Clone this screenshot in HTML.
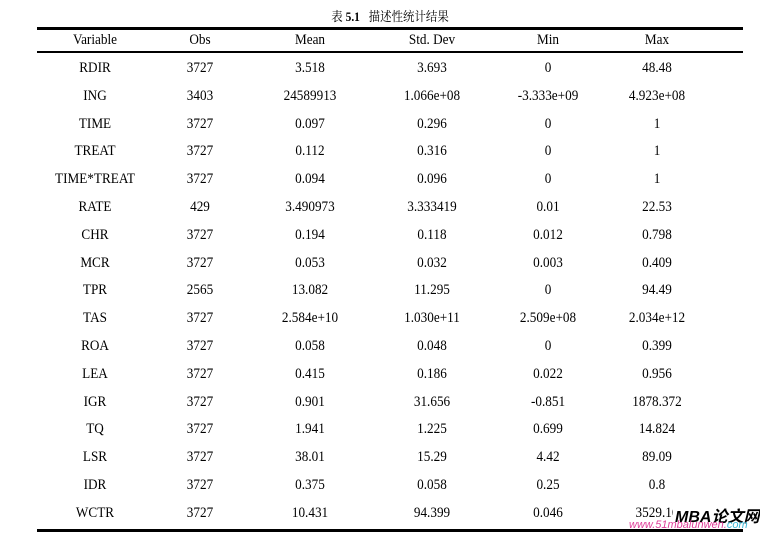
<!DOCTYPE html>
<html><head><meta charset="utf-8"><style>
body{margin:0;width:760px;height:535px;background:#fff;position:relative;overflow:hidden;font-family:"Liberation Serif","Noto Serif CJK SC",serif;color:#000}
.t{position:absolute;font-size:15px;line-height:16px;white-space:nowrap;transform:translateX(-50%) scaleX(0.88)}
.ln{position:absolute;left:37px;width:706px;background:#000}
</style></head><body>
<div class="t" style="left:390px;top:8px;font-family:'Noto Serif CJK SC','Liberation Serif',serif;font-size:13px">表 <b style="font-family:'Liberation Serif'">5.1</b>&nbsp;&nbsp;&nbsp;描述性统计结果</div>
<div class="ln" style="top:27px;height:3px"></div>
<div class="ln" style="top:51px;height:2px"></div>
<div class="ln" style="top:529px;height:3px"></div>
<div id="c"></div>
<div style="position:absolute;left:673px;top:503px;font:italic bold 16px 'Liberation Sans','Noto Sans CJK SC',sans-serif;background:#fff;padding-left:2px">MBA论文网</div>
<div style="position:absolute;left:629px;top:519px;font:italic 11px 'Liberation Sans',sans-serif;color:#e0409a">www.51mbalunwen.<span style="color:#3bb8d8">com</span></div>
<script>
var xs=[95,200,310,432,548,657];
var rows=[["Variable","Obs","Mean","Std. Dev","Min","Max"],
["RDIR","3727","3.518","3.693","0","48.48"],
["ING","3403","24589913","1.066e+08","-3.333e+09","4.923e+08"],
["TIME","3727","0.097","0.296","0","1"],
["TREAT","3727","0.112","0.316","0","1"],
["TIME*TREAT","3727","0.094","0.096","0","1"],
["RATE","429","3.490973","3.333419","0.01","22.53"],
["CHR","3727","0.194","0.118","0.012","0.798"],
["MCR","3727","0.053","0.032","0.003","0.409"],
["TPR","2565","13.082","11.295","0","94.49"],
["TAS","3727","2.584e+10","1.030e+11","2.509e+08","2.034e+12"],
["ROA","3727","0.058","0.048","0","0.399"],
["LEA","3727","0.415","0.186","0.022","0.956"],
["IGR","3727","0.901","31.656","-0.851","1878.372"],
["TQ","3727","1.941","1.225","0.699","14.824"],
["LSR","3727","38.01","15.29","4.42","89.09"],
["IDR","3727","0.375","0.058","0.25","0.8"],
["WCTR","3727","10.431","94.399","0.046","3529.16"]];
var h="";
rows.forEach(function(r,i){var y=i==0?32:60+(i-1)*27.8;
r.forEach(function(v,j){h+='<div class="t" style="left:'+xs[j]+'px;top:'+y+'px">'+v+'</div>';});});
document.getElementById('c').innerHTML=h;
</script>
</body></html>
